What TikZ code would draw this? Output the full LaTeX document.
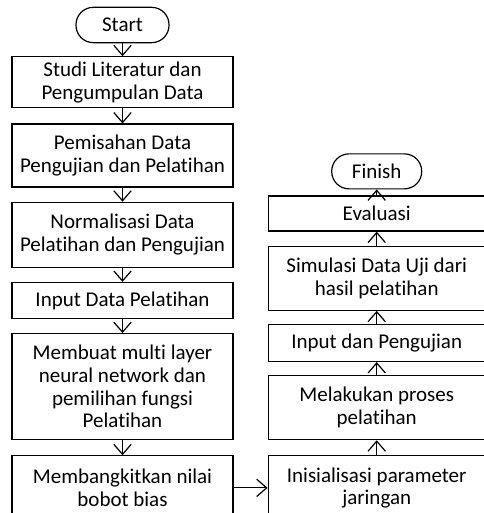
\documentclass[tikz,border=0pt]{standalone}
\usepackage{fontspec}
\setmainfont{Carlito}[Ligatures=NoCommon]
\usetikzlibrary{positioning,arrows.meta}

\begin{document}
\begin{tikzpicture}[x=0.75pt, y=-0.75pt, line width=0.9pt,
        >={Straight Barb[length=7.5pt, width=13pt]},
        box/.style={draw, rectangle, inner sep=0pt, align=center, font=\fontsize{15.75}{17}\selectfont},
        kiri/.style={box, minimum width=165.75pt},
        kanan/.style={box, minimum width=162.75pt},
        term/.style={draw, rectangle, rounded corners=13pt, inner sep=0pt, minimum height=26.5pt, font=\fontsize{15.75}{17}\selectfont}]
        \useasboundingbox (0,0) rectangle (484,513);

        % Kolom kiri
        \node[term, minimum width=69.75pt] (start) at (122.5,25) {Start};
        \node[kiri, below=9.75pt of start, minimum height=38.25pt] (studi) {Studi Literatur dan\\Pengumpulan Data};
        \node[kiri, below=11.25pt of studi, minimum height=47.25pt] (pisah) {Pemisahan Data\\Pengujian dan Pelatihan};
        \node[kiri, below=10.5pt of pisah, minimum height=48.75pt] (norm) {Normalisasi Data\\Pelatihan dan Pengujian};
        \node[kiri, below=10.5pt of norm, minimum height=27pt] (input) {Input Data Pelatihan};
        \node[kiri, below=10.5pt of input, minimum height=79.5pt] (mlp) {Membuat multi layer\\neural network dan\\pemilihan fungsi\\Pelatihan};
        \node[kiri, below=11.25pt of mlp, minimum height=48pt] (bobot) {Membangkitkan nilai\\bobot bias};

        % Kolom kanan
        \node[kanan, right=25.5pt of bobot, minimum height=48pt] (inisial) {Inisialisasi parameter\\jaringan};
        \node[kanan, above=11.25pt of inisial, minimum height=48pt] (latih) {Melakukan proses\\pelatihan};
        \node[kanan, above=9.75pt of latih, minimum height=27.75pt] (uji) {Input dan Pengujian};
        \node[kanan, above=9.75pt of uji, minimum height=48pt] (simulasi) {Simulasi Data Uji dari\\hasil pelatihan};
        \node[kanan, above=10.5pt of simulasi, minimum height=26.25pt] (eval) {Evaluasi};
        \node[term, above=4.5pt of eval, minimum width=67.5pt, minimum height=26.25pt] (finish) {Finish};

        % Panah
        \draw[->] (start) -- (studi);
        \draw[->] (studi) -- (pisah);
        \draw[->] (pisah) -- (norm);
        \draw[->] (norm) -- (input);
        \draw[->] (input) -- (mlp);
        \draw[->] (mlp) -- (bobot);
        \draw[->] (bobot) -- (inisial);
        \draw[->] (inisial) -- (latih);
        \draw[->] (latih) -- (uji);
        \draw[->] (uji) -- (simulasi);
        \draw[->] (simulasi) -- (eval);
        \draw[->] (eval) -- (finish);
\end{tikzpicture}
\end{document}
